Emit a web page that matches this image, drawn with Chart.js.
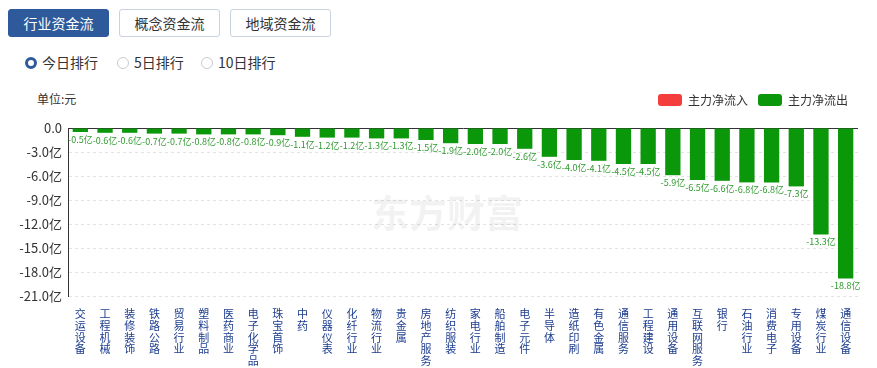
<!DOCTYPE html>
<html>
<head>
<meta charset="utf-8">
<script src="https://cdn.jsdelivr.net/npm/chart.js@4.4.1/dist/chart.umd.min.js"></script>
<style>
  body { margin: 0; background: #fff; font-family: "Noto Sans CJK SC", sans-serif; }
  .tabs { position: absolute; top: 9px; left: 8px; }
  .tab { position: absolute; top: 0; width: 99px; height: 26px; line-height: 26px; text-align: center;
         font-size: 14px; color: #333; border: 1px solid #c9d3df; border-radius: 3px; background: #fff; }
  .tab.on { background: #2e5a9c; color: #fff; border-color: #2e5a9c; }
  .radios { position: absolute; top: 53px; left: 25px; font-size: 14px; color: #333; }
  .radio { position: absolute; top: 0; white-space: nowrap; line-height: 18px; }
  .radio i { display: inline-block; width: 10px; height: 10px; border: 1px solid #c8ccd2; border-radius: 50%;
             vertical-align: -1px; margin-right: 5px; }
  .radio.on i { width: 6px; height: 6px; border: 3px solid #2e5a9c; }
  .unit { position: absolute; top: 90px; left: 37px; font-size: 12px; color: #333; }
  #wrap { position: absolute; left: 0; top: 80px; width: 877px; height: 288px; }
</style>
</head>
<body>
<div class="tabs">
  <div class="tab on" style="left:0">行业资金流</div>
  <div class="tab" style="left:111px">概念资金流</div>
  <div class="tab" style="left:222px">地域资金流</div>
</div>
<div class="radios">
  <div class="radio on" style="left:0"><i></i>今日排行</div>
  <div class="radio" style="left:92px"><i></i>5日排行</div>
  <div class="radio" style="left:176px"><i></i>10日排行</div>
</div>
<div class="unit">单位:元</div>
<div id="wrap"><canvas id="flowChart"></canvas></div>
<script>
const industries = ["交运设备", "工程机械", "装修装饰", "铁路公路", "贸易行业", "塑料制品", "医药商业", "电子化学品",
  "珠宝首饰", "中药", "仪器仪表", "化纤行业", "物流行业", "贵金属", "房地产服务", "纺织服装", "家电行业", "船舶制造",
  "电子元件", "半导体", "造纸印刷", "有色金属", "通信服务", "工程建设", "通用设备", "互联网服务", "银行", "石油行业",
  "消费电子", "专用设备", "煤炭行业", "通信设备"];

// 亿元
const netOutflow = [-0.5, -0.6, -0.6, -0.7, -0.7, -0.8, -0.8, -0.8, -0.9, -1.1, -1.2, -1.2, -1.3, -1.3, -1.5, -1.9,
  -2.0, -2.0, -2.6, -3.6, -4.0, -4.1, -4.5, -4.5, -5.9, -6.5, -6.6, -6.8, -6.8, -7.3, -13.3, -18.8];
const netInflow = industries.map(() => null);

const yTicks = [0, -3, -6, -9, -12, -15, -18, -21];

// extra gap under the legend
const legendGap = {
  id: "legendGap",
  beforeInit(chart) {
    const fit = chart.legend.fit;
    chart.legend.fit = function () {
      fit.call(this);
      this.height += 12;
    };
  }
};

// value labels under each bar + watermark
const barLabels = {
  id: "barLabels",
  beforeDatasetsDraw(chart) {
    const { ctx, chartArea } = chart;
    ctx.save();
    ctx.font = "bold 38px 'Noto Sans CJK SC'";
    ctx.fillStyle = "rgba(0,0,0,0.05)";
    ctx.textAlign = "center";
    ctx.textBaseline = "middle";
    ctx.fillText("东方财富", 447, chartArea.top + 85);
    ctx.restore();
  },
  afterDatasetsDraw(chart) {
    const { ctx } = chart;
    const meta = chart.getDatasetMeta(1);
    ctx.save();
    ctx.font = "9px 'Noto Sans CJK SC'";
    ctx.fillStyle = "#2f9a2f";
    ctx.textAlign = "center";
    ctx.textBaseline = "top";
    meta.data.forEach((bar, i) => {
      ctx.fillText(netOutflow[i].toFixed(1) + "亿", bar.x, bar.y + 3);
    });
    ctx.restore();
  }
};

new Chart(document.getElementById("flowChart"), {
  type: "bar",
  data: {
    labels: industries.map(s => s.split("")),
    datasets: [
      { label: "主力净流入", data: netInflow, backgroundColor: "#f43d3d", grouped: false },
      { label: "主力净流出", data: netOutflow, backgroundColor: "#0a970a", grouped: false,
        barPercentage: 0.62, categoryPercentage: 1 }
    ]
  },
  options: {
    responsive: true,
    maintainAspectRatio: false,
    animation: false,
    layout: { padding: { top: 4, right: 19, left: 0, bottom: 0 } },
    plugins: {
      legend: {
        align: "end",
        labels: {
          boxWidth: 24, boxHeight: 12, useBorderRadius: true, borderRadius: 3,
          color: "#333", font: { size: 12, family: "Noto Sans CJK SC" }, padding: 10
        }
      },
      tooltip: { enabled: false }
    },
    scales: {
      x: {
        grid: { display: false },
        border: { display: false },
        ticks: {
          autoSkip: false, maxRotation: 0, minRotation: 0, padding: 4,
          color: "#1c3c8e", font: { size: 11, family: "Noto Sans CJK SC", lineHeight: 1.07 }
        },
        afterFit(scale) { scale.height = 72; }
      },
      y: {
        min: -21, max: 0,
        afterBuildTicks(scale) { scale.ticks = yTicks.map(v => ({ value: v })); },
        afterFit(scale) { scale.width = 68; },
        grid: {
          color: c => (c.tick && c.tick.value === 0 ? "#333" : "#e3e3e3"),
          drawTicks: false
        },
        border: { color: "#333", dash: c => (c.tick && c.tick.value === 0 ? [] : [3, 3]) },
        ticks: {
          padding: 6, color: "#333", font: { size: 13, family: "Noto Sans CJK SC" },
          callback: v => (v === 0 ? "0.0" : v.toFixed(1) + "亿")
        }
      }
    }
  },
  plugins: [legendGap, barLabels]
});
</script>
</body>
</html>
